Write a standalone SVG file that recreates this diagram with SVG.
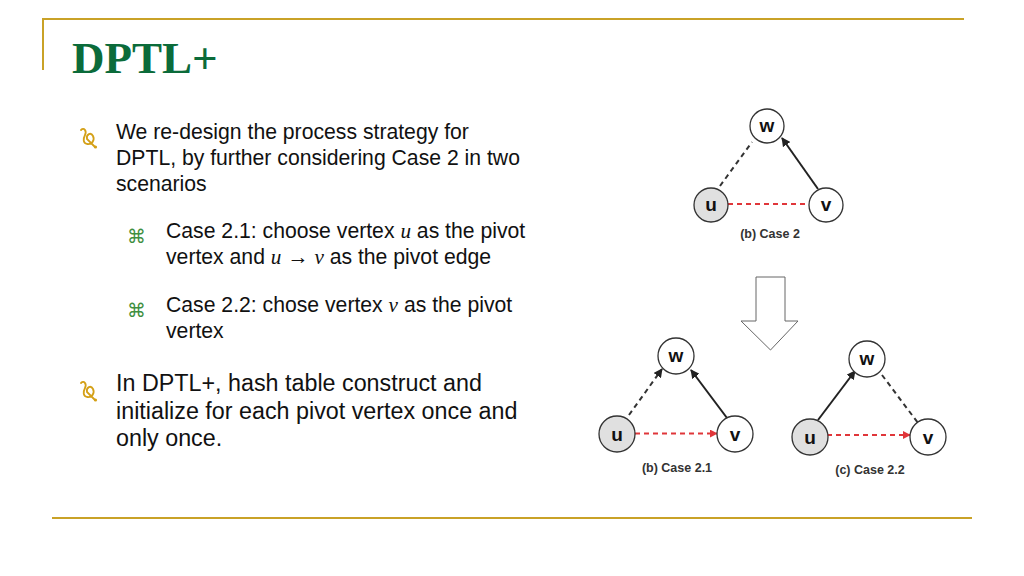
<svg xmlns="http://www.w3.org/2000/svg" width="1024" height="576" viewBox="0 0 1024 576">
<style>
.rule{stroke:#C9A227;stroke-width:2;fill:none}
.title{font-family:"Liberation Serif",serif;font-weight:bold;font-size:45px;fill:#0B6B3A}
.body{font-family:"Liberation Sans",Arial,sans-serif;font-size:21.2px;fill:#111}
.big{font-family:"Liberation Sans",Arial,sans-serif;font-size:23.3px;fill:#111}
.m{font-family:"Liberation Serif",serif;font-style:italic}
.sub{font-family:"DejaVu Sans",sans-serif;font-size:19px;fill:#3F8F3F}
.node{fill:#fff;stroke:#333;stroke-width:1.3}
.pivot{fill:#e0e0e0;stroke:#333;stroke-width:1.3}
.nl{font-family:"Liberation Sans",Arial,sans-serif;font-weight:bold;font-size:19px;fill:#111;text-anchor:middle}
.cap{font-family:"Liberation Sans",Arial,sans-serif;font-weight:bold;font-size:12.5px;fill:#333;text-anchor:middle}
.solid{stroke:#222;stroke-width:2;fill:none}
.dash{stroke:#333;stroke-width:2;stroke-dasharray:5 4;fill:none}
.red{stroke:#E0363A;stroke-width:1.8;stroke-dasharray:5 4;fill:none}
.orn{stroke:#D4A017;stroke-width:1.8;fill:none;stroke-linecap:round}
</style>
<defs>
<marker id="abk" viewBox="0 0 10 10" refX="9" refY="5" markerWidth="9" markerHeight="9" orient="auto" markerUnits="userSpaceOnUse">
<path d="M0,0 L10,5 L0,10 z" fill="#222"/>
</marker>
<marker id="ark" viewBox="0 0 10 10" refX="9" refY="5" markerWidth="8" markerHeight="8" orient="auto" markerUnits="userSpaceOnUse">
<path d="M0,0 L10,5 L0,10 z" fill="#E0363A"/>
</marker>
</defs>
<rect width="1024" height="576" fill="#fff"/>
<g id="frame">
<line class="rule" x1="42" y1="19" x2="964" y2="19"/>
<line class="rule" x1="43" y1="18" x2="43" y2="70"/>
<line class="rule" x1="52" y1="518" x2="972" y2="518"/>
</g>
<text id="title" class="title" x="72" y="73">DPTL+</text>
<g id="bullets">
<g id="b1">
<path class="orn" d="M81,130 C84,127 87,131 85,135 C83,139 83,143 87,144 C92,145 95,140 93,136 C91,132 86,134 87,139 L95,147"/>
<circle cx="95.5" cy="147" r="1.6" fill="#D4A017"/>
<text class="body" x="116" y="139">We re-design the process strategy for</text>
<text class="body" x="116" y="165">DPTL, by further considering Case 2 in two</text>
<text class="body" x="116" y="191">scenarios</text>
</g>
<g id="b11">
<text class="sub" x="127" y="243">⌘</text>
<text class="body" x="166" y="238">Case 2.1: choose vertex <tspan class="m">u</tspan> as the pivot</text>
<text class="body" x="166" y="264">vertex and <tspan class="m">u</tspan> → <tspan class="m">v</tspan> as the pivot edge</text>
</g>
<g id="b12">
<text class="sub" x="127" y="317">⌘</text>
<text class="body" x="166" y="312">Case 2.2: chose vertex <tspan class="m">v</tspan> as the pivot</text>
<text class="body" x="166" y="338">vertex</text>
</g>
<g id="b2">
<path class="orn" d="M81,383 C84,380 87,384 85,388 C83,392 83,396 87,397 C92,398 95,393 93,389 C91,385 86,387 87,392 L95,400"/>
<circle cx="95.5" cy="400" r="1.6" fill="#D4A017"/>
<text class="big" x="116" y="391">In DPTL+, hash table construct and</text>
<text class="big" x="116" y="419">initialize for each pivot vertex once and</text>
<text class="big" x="116" y="446">only once.</text>
</g>
</g>
<g id="connectors">
<line class="dash" x1="720" y1="186" x2="752" y2="142"/>
<line class="solid" x1="818" y1="189" x2="782" y2="138" marker-end="url(#abk)"/>
<line class="red" x1="728" y1="204" x2="808" y2="204"/>
<line class="dash" x1="629" y1="415" x2="662" y2="369" marker-end="url(#abk)"/>
<line class="solid" x1="727" y1="418" x2="691" y2="370" marker-end="url(#abk)"/>
<line class="red" x1="635" y1="433.5" x2="717" y2="433.5" marker-end="url(#ark)"/>
<line class="solid" x1="818" y1="420" x2="855" y2="371" marker-end="url(#abk)"/>
<line class="dash" x1="882" y1="375" x2="918" y2="423"/>
<line class="red" x1="827" y1="435" x2="910" y2="435" marker-end="url(#ark)"/>
</g>
<g id="bigarrow">
<path d="M756,277 L785,277 L785,321 L798,321 L770.5,350 L741,321 L756,321 Z" fill="#fff" stroke="#666" stroke-width="1"/>
</g>
<g id="case2">
<g id="c2w"><circle class="node" cx="767" cy="126" r="17"/><text class="nl" x="767" y="132">w</text></g>
<g id="c2u"><circle class="pivot" cx="711" cy="205" r="17"/><text class="nl" x="711" y="211">u</text></g>
<g id="c2v"><circle class="node" cx="826" cy="205" r="17"/><text class="nl" x="826" y="211">v</text></g>
<text class="cap" x="770" y="238">(b) Case 2</text>
</g>
<g id="case21">
<g id="c21w"><circle class="node" cx="676" cy="356" r="18"/><text class="nl" x="676" y="362">w</text></g>
<g id="c21u"><circle class="pivot" cx="617" cy="434" r="18"/><text class="nl" x="617" y="441">u</text></g>
<g id="c21v"><circle class="node" cx="735" cy="434" r="18"/><text class="nl" x="735" y="441">v</text></g>
<text class="cap" x="677" y="472">(b) Case 2.1</text>
</g>
<g id="case22">
<g id="c22w"><circle class="node" cx="867" cy="359" r="18"/><text class="nl" x="867" y="365">w</text></g>
<g id="c22u"><circle class="pivot" cx="810" cy="437" r="18"/><text class="nl" x="810" y="444">u</text></g>
<g id="c22v"><circle class="node" cx="928" cy="437" r="18"/><text class="nl" x="928" y="444">v</text></g>
<text class="cap" x="870" y="474">(c) Case 2.2</text>
</g>
</svg>
